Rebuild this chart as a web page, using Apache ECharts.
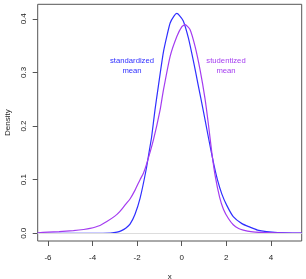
<!DOCTYPE html>
<html>
<head>
<meta charset="utf-8">
<script src="https://cdn.jsdelivr.net/npm/echarts@6/dist/echarts.min.js"></script>
<style>html,body{margin:0;padding:0;background:#fff}#c{width:306px;height:279px}</style>
</head>
<body>
<div id="c"></div>
<script>
// standardized mean density (blue)
const xBlue = [-6.46,-4.0,-3.2,-2.9,-2.7,-2.5,-2.32,-2.1,-1.87,-1.6,-1.45,-1.35,-1.2,-1.05,-0.83,-0.67,-0.52,-0.35,-0.22,-0.1,0.07,0.3,0.52,0.74,0.97,1.19,1.42,1.6,1.8,2.02,2.31,2.7,3.06,3.4,3.8,4.3,5.38];
const yBlue = [0,0,0.0005,0.002,0.005,0.010,0.017,0.035,0.065,0.118,0.155,0.18,0.23,0.274,0.336,0.367,0.392,0.405,0.41,0.406,0.396,0.364,0.322,0.276,0.228,0.18,0.132,0.1,0.073,0.052,0.031,0.018,0.0115,0.006,0.003,0.0012,0.0002];
// studentized mean density (purple)
const xPurple = [-6.46,-6.0,-5.5,-4.86,-4.4,-4.11,-3.7,-3.36,-3.0,-2.77,-2.5,-2.32,-2.1,-1.87,-1.72,-1.57,-1.27,-0.97,-0.83,-0.52,-0.22,0.0,0.15,0.37,0.6,0.82,1.04,1.2,1.35,1.5,1.7,1.87,2.1,2.31,2.55,2.76,3.1,3.6,4.3,5.38];
const yPurple = [0.001,0.002,0.003,0.005,0.007,0.009,0.014,0.022,0.032,0.041,0.055,0.064,0.08,0.1,0.112,0.13,0.174,0.23,0.265,0.33,0.367,0.385,0.389,0.38,0.348,0.305,0.252,0.202,0.15,0.107,0.067,0.045,0.027,0.016,0.009,0.006,0.003,0.0015,0.0007,0.0003];
const xTicks = [-6,-4,-2,0,2,4];
const yTicks = [0,0.1,0.2,0.3,0.4];
const labelBlue = 'standardized\nmean';
const labelPurple = 'studentized\nmean';
const blueColor = '#2f2fff';
const purpleColor = '#a43cf0';

const zip = (xs, ys) => xs.map((x, i) => [x, ys[i]]);
const font = '"Liberation Sans", Arial, sans-serif';
const chart = echarts.init(document.getElementById('c'));
chart.setOption({
  animation: false,
  grid: {left: 37.7, right: 4.3, top: 4.3, bottom: 38, containLabel: false, outerBoundsMode: 'none',
    show: true, borderColor: '#555', borderWidth: 1, backgroundColor: 'transparent'},
  xAxis: {
    type: 'value', min: -6.46, max: 5.38, position: 'bottom',
    name: 'x', nameLocation: 'middle', nameGap: 32,
    nameTextStyle: {fontFamily: font, fontSize: 8, color: '#222'},
    axisLine: {show: false, onZero: false},
    axisTick: {show: true, customValues: xTicks, length: 5, lineStyle: {color: '#555'}},
    axisLabel: {customValues: xTicks, margin: 13, fontFamily: font, fontSize: 8, color: '#222'},
    splitLine: {show: false}
  },
  yAxis: {
    type: 'value', min: -0.0144, max: 0.427, position: 'left',
    name: 'Density', nameLocation: 'middle', nameGap: 26, nameRotate: 90,
    nameTextStyle: {fontFamily: font, fontSize: 8, color: '#222'},
    axisLine: {show: false, onZero: false},
    axisTick: {show: true, customValues: yTicks, length: 5, lineStyle: {color: '#555'}},
    axisLabel: {customValues: yTicks, margin: 10, rotate: 90, fontFamily: font, fontSize: 8, color: '#222',
      formatter: v => v.toFixed(1)},
    splitLine: {show: false}
  },
  series: [
    {type: 'line', data: zip(xPurple, yPurple), showSymbol: false, smooth: 0.2,
     lineStyle: {color: purpleColor, width: 1.2}, z: 3},
    {type: 'line', data: zip(xBlue, yBlue), showSymbol: false, smooth: 0.2,
     lineStyle: {color: blueColor, width: 1.2}, z: 2,
     markLine: {silent: true, symbol: 'none', label: {show: false},
       lineStyle: {color: '#dddddd', width: 1, type: 'solid'}, data: [{yAxis: 0}]}}
  ],
  graphic: [
    {type: 'text', x: 132, y: 66, style: {text: labelBlue, fill: blueColor, font: '7.7px ' + font, align: 'center', verticalAlign: 'middle', lineHeight: 9.5}},
    {type: 'text', x: 226, y: 66, style: {text: labelPurple, fill: purpleColor, font: '7.7px ' + font, align: 'center', verticalAlign: 'middle', lineHeight: 9.5}}
  ]
});
</script>
</body>
</html>
